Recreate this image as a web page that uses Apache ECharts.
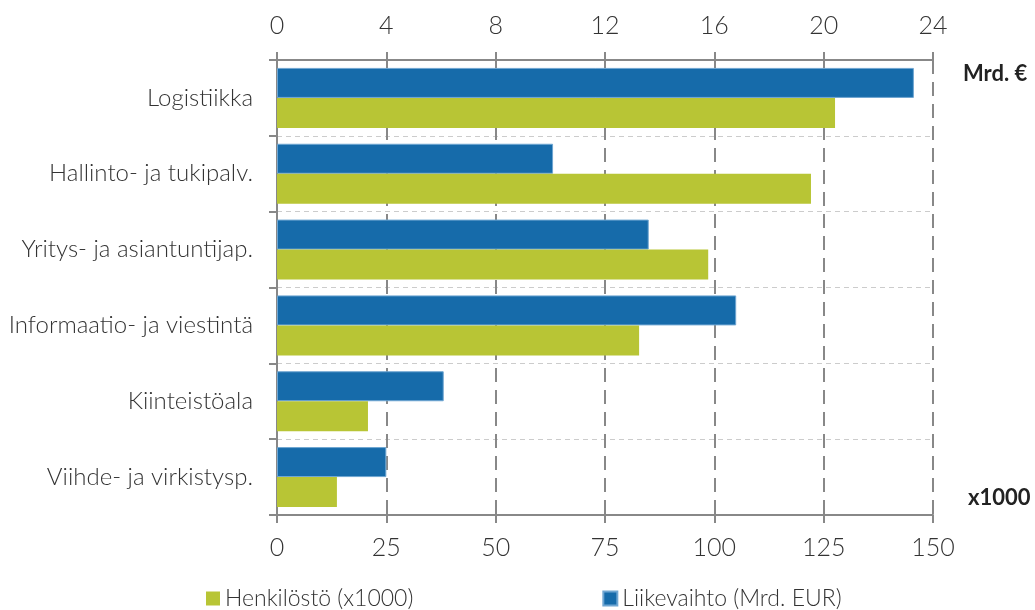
<!DOCTYPE html>
<html><head><meta charset="utf-8">
<script src="https://cdn.jsdelivr.net/npm/echarts@6/dist/echarts.min.js"></script>
<style>html,body{margin:0;padding:0;background:#fff}#c{width:1035px;height:610px}</style>
</head><body><div id="c"></div>
<script>
const categories = ['Logistiikka','Hallinto- ja tukipalv.','Yritys- ja asiantuntijap.','Informaatio- ja viestintä','Kiinteistöala','Viihde- ja virkistysp.'];
const liikevaihto = [23.3, 10.1, 13.6, 16.8, 6.1, 4.0];
const henkilosto = [127.6, 122.1, 98.6, 82.8, 20.8, 13.7];
const topTicks = [0, 4, 8, 12, 16, 20, 24];
const bottomTicks = [0, 25, 50, 75, 100, 125, 150];
const FONT = 'Lato, "Open Sans", sans-serif';
const chart = echarts.init(document.getElementById('c'));
chart.setOption({
  animation: false,
  textStyle: {fontFamily: FONT},
  grid: {left: 277, right: 102, top: 60, bottom: 95},
  legend: {
    data: ['Henkilöstö (x1000)', 'Liikevaihto (Mrd. EUR)'],
    left: 206, top: 587, padding: 0, itemWidth: 14, itemHeight: 14, itemGap: 189, icon: 'rect', itemTextGap: 6,
    textStyle: {fontSize: 23, color: '#333', fontFamily: FONT, fontWeight: 300}
  },
  xAxis: [
    {type: 'value', position: 'top', min: topTicks[0], max: topTicks[topTicks.length-1], interval: 4,
     axisLine: {show: true, lineStyle: {color: '#888', width: 2}},
     axisTick: {show: true, length: 8, lineStyle: {color: '#888', width: 2}},
     axisLabel: {fontSize: 25, color: '#333', margin: 22, fontWeight: 300, fontFamily: FONT},
     splitLine: {show: true, lineStyle: {color: '#888', type: [14, 8], width: 2}}},
    {type: 'value', position: 'bottom', min: bottomTicks[0], max: bottomTicks[bottomTicks.length-1], interval: 25,
     axisLine: {show: true, lineStyle: {color: '#888', width: 2}},
     axisTick: {show: true, length: 8, lineStyle: {color: '#888', width: 2}},
     axisLabel: {fontSize: 25, color: '#333', margin: 20, fontWeight: 300, fontFamily: FONT},
     splitLine: {show: false}}
  ],
  yAxis: {
    type: 'category', data: categories, inverse: true,
    axisLine: {show: true, lineStyle: {color: '#888', width: 2}},
    axisTick: {show: true, length: 8, lineStyle: {color: '#888', width: 2}},
    axisLabel: {fontSize: 24, color: '#333', margin: 24, fontWeight: 300, fontFamily: FONT},
    splitLine: {show: true, lineStyle: {color: '#ccc', type: [5, 4], width: 1}}
  },
  series: [
    {name: 'Liikevaihto (Mrd. EUR)', type: 'bar', xAxisIndex: 0, data: liikevaihto,
     barWidth: 30, barGap: '0%',
     itemStyle: {color: '#166BAA', borderColor: '#6FA6D2', borderWidth: 1}},
    {name: 'Henkilöstö (x1000)', type: 'bar', xAxisIndex: 1, data: henkilosto,
     barWidth: 30, barGap: '0%',
     itemStyle: {color: '#B8C535'}}
  ],
  graphic: [
    {type: 'text', left: 963, top: 63, style: {text: 'Mrd. €', fontSize: 22, fontWeight: 'bold', fill: '#222', fontFamily: FONT}},
    {type: 'text', left: 968, top: 487, style: {text: 'x1000', fontSize: 22, fontWeight: 'bold', fill: '#222', fontFamily: FONT}}
  ]
});
</script></body></html>
